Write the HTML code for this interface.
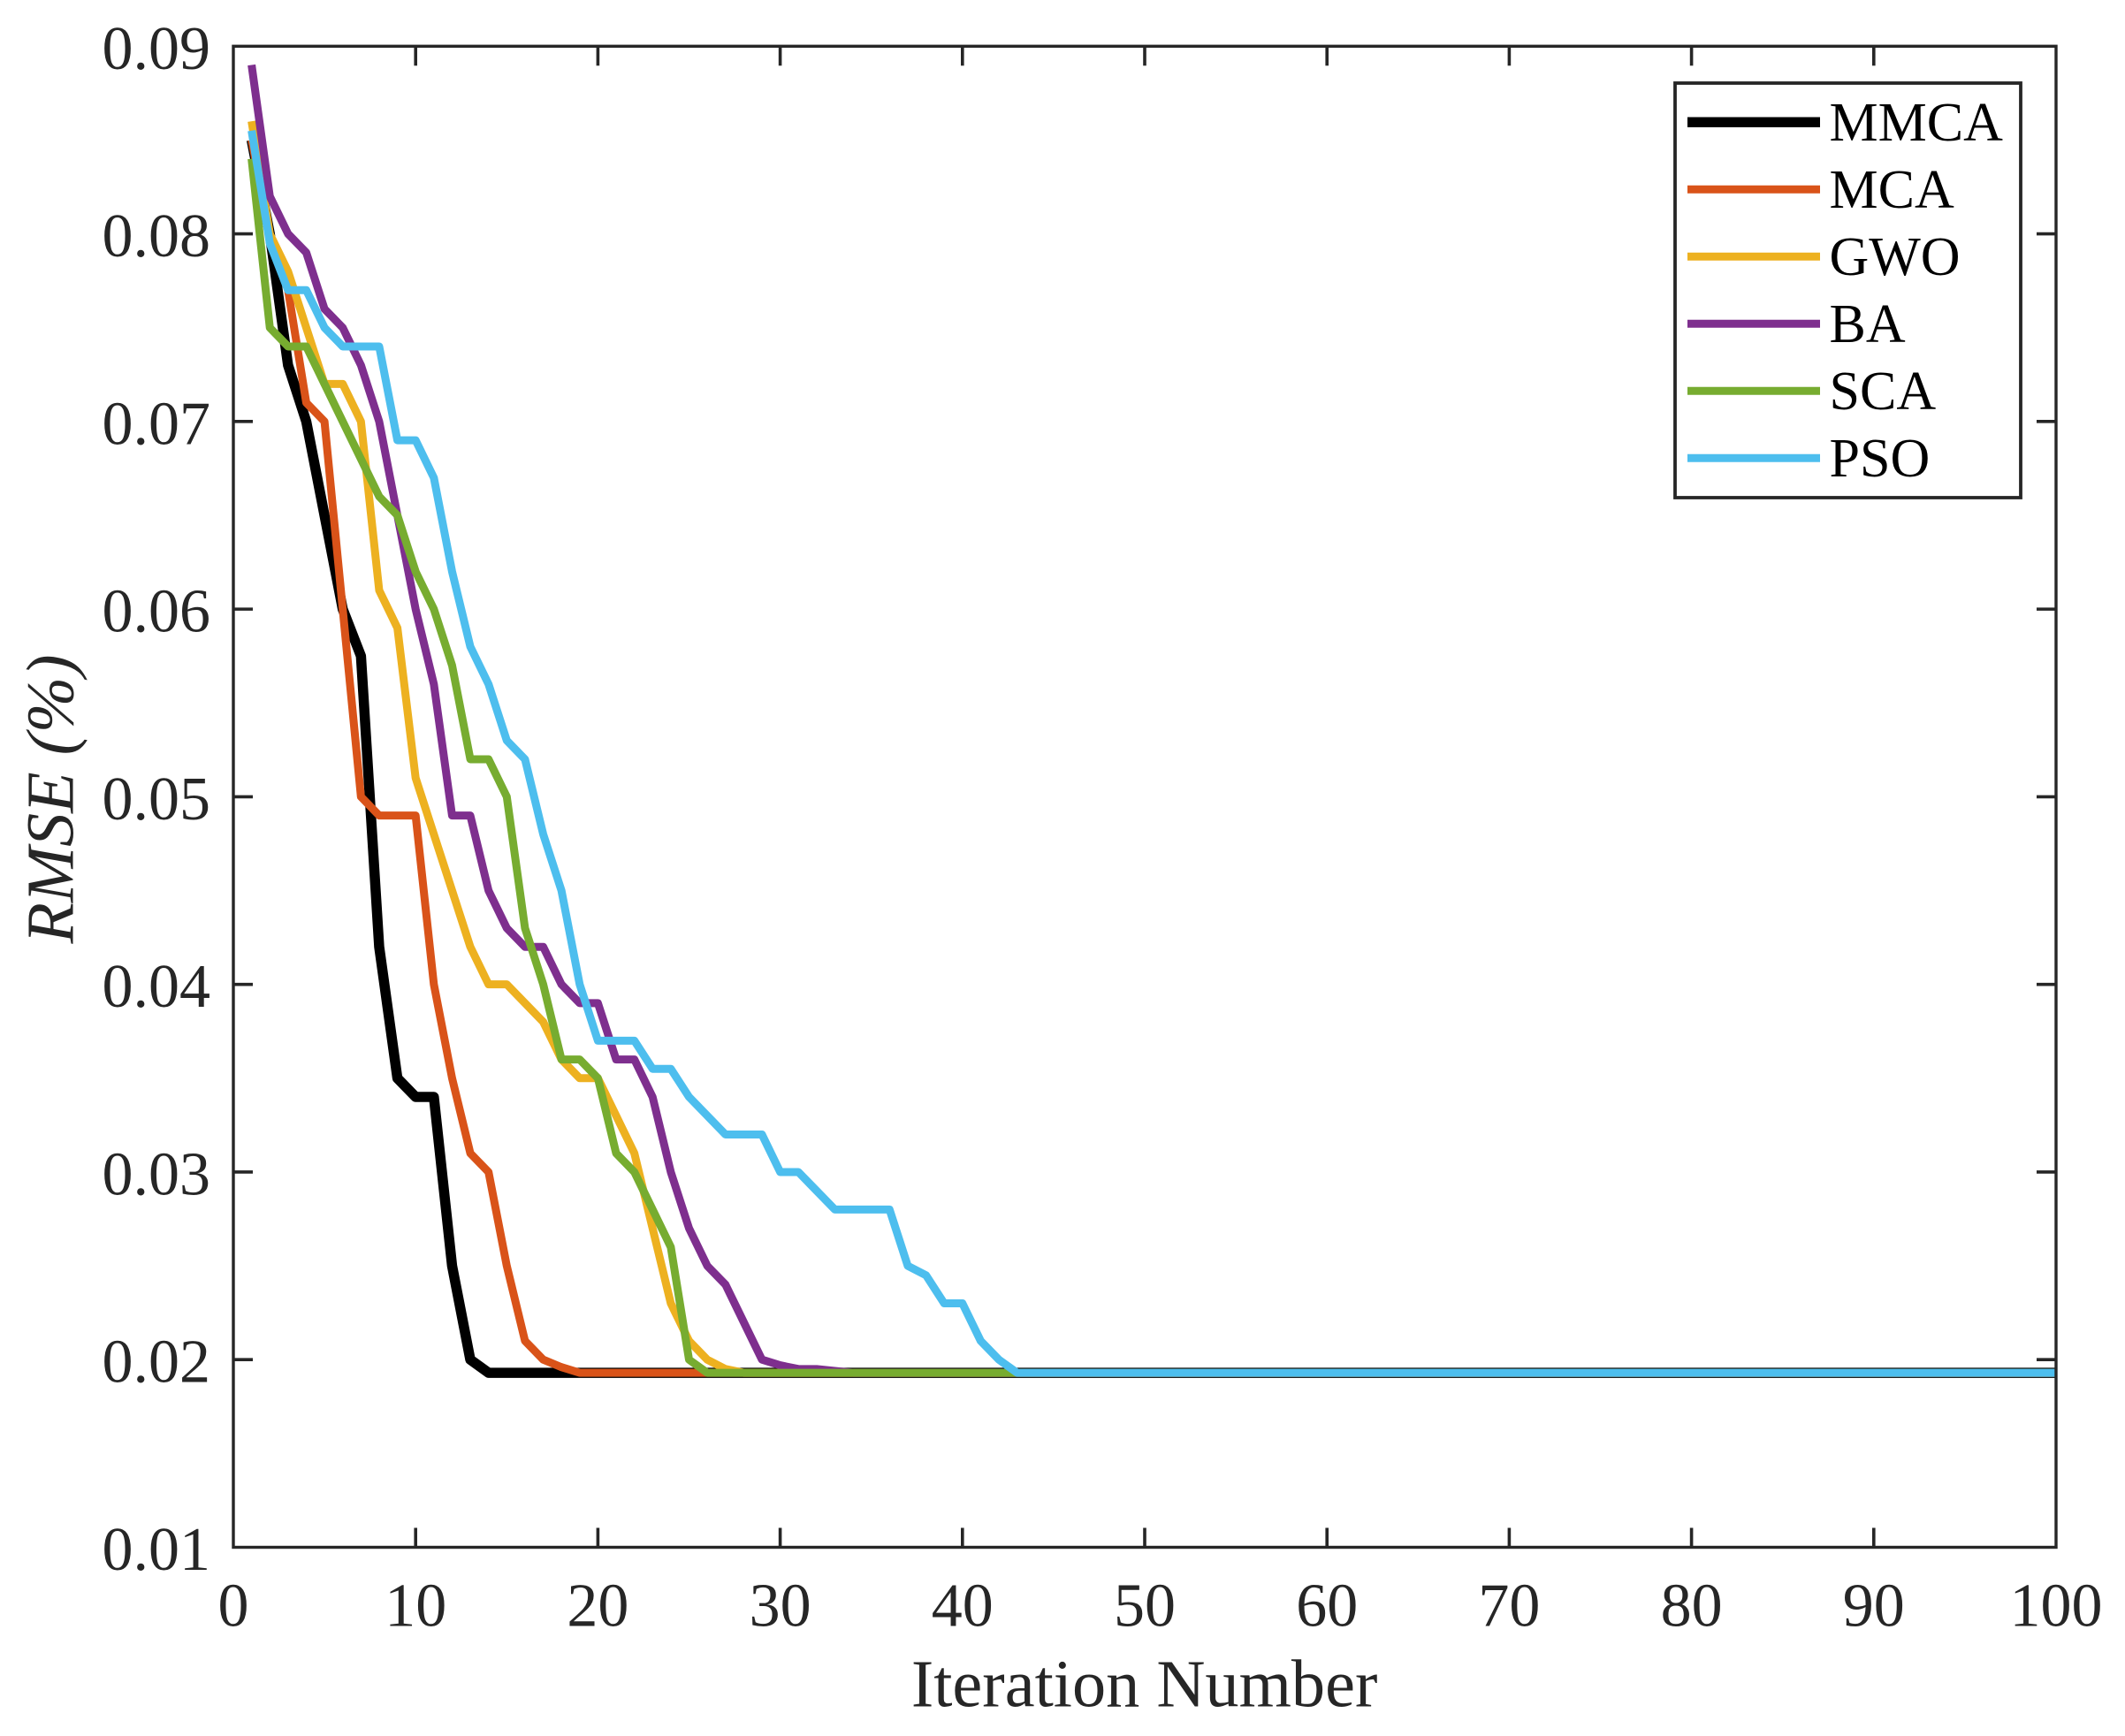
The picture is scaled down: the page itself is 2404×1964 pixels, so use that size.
<!DOCTYPE html>
<html lang="en">
<head>
<meta charset="utf-8">
<title>RMSE convergence chart</title>
<style>
html,body{margin:0;padding:0;background:#fff;}
svg{display:block;}
text{font-family:"Liberation Serif","Times New Roman",serif;}
</style>
</head>
<body>
<svg id="chart" xmlns="http://www.w3.org/2000/svg" width="2404" height="1964" viewBox="0 0 2404 1964">
  <rect x="0" y="0" width="2404" height="1964" fill="#ffffff"/>
  <g id="series"></g>
  <g id="axes"></g>
  <text x="1294.6" y="1930.7" font-size="76.3" text-anchor="middle" fill="#262626">Iteration Number</text>
  <text transform="translate(82.5,904) rotate(-90)" font-size="76" font-style="italic" text-anchor="middle" fill="#262626">RMSE (%)</text>
  <g id="legend"></g>
</svg>
<script>
const xTicks = [0, 10, 20, 30, 40, 50, 60, 70, 80, 90, 100];
const yTicks = [0.01, 0.02, 0.03, 0.04, 0.05, 0.06, 0.07, 0.08, 0.09];
const yTickLabels = ["0.01", "0.02", "0.03", "0.04", "0.05", "0.06", "0.07", "0.08", "0.09"];

const seriesNames = ["MMCA", "MCA", "GWO", "BA", "SCA", "PSO"];

const mmca = [
0.085,0.080,0.073,0.070,0.065,0.060,0.0575,0.042,0.035,0.034,
0.034,0.025,0.020,0.0193,0.0193,0.0193,0.0193,0.0193,0.0193,0.0193,
0.0193,0.0193,0.0193,0.0193,0.0193,0.0193,0.0193,0.0193,0.0193,0.0193,
0.0193,0.0193,0.0193,0.0193,0.0193,0.0193,0.0193,0.0193,0.0193,0.0193,
0.0193,0.0193,0.0193,0.0193,0.0193,0.0193,0.0193,0.0193,0.0193,0.0193,
0.0193,0.0193,0.0193,0.0193,0.0193,0.0193,0.0193,0.0193,0.0193,0.0193,
0.0193,0.0193,0.0193,0.0193,0.0193,0.0193,0.0193,0.0193,0.0193,0.0193,
0.0193,0.0193,0.0193,0.0193,0.0193,0.0193,0.0193,0.0193,0.0193,0.0193,
0.0193,0.0193,0.0193,0.0193,0.0193,0.0193,0.0193,0.0193,0.0193,0.0193,
0.0193,0.0193,0.0193,0.0193,0.0193,0.0193,0.0193,0.0193,0.0193,0.0193];

const mca = [
0.085,0.080,0.077,0.071,0.070,0.060,0.050,0.049,0.049,0.049,
0.040,0.035,0.031,0.030,0.025,0.021,0.020,0.0196,0.0193,0.0193,
0.0193,0.0193,0.0193,0.0193,0.0193,0.0193,0.0193,0.0193,0.0193,0.0193,
0.0193,0.0193,0.0193,0.0193,0.0193,0.0193,0.0193,0.0193,0.0193,0.0193,
0.0193,0.0193,0.0193,0.0193,0.0193,0.0193,0.0193,0.0193,0.0193,0.0193,
0.0193,0.0193,0.0193,0.0193,0.0193,0.0193,0.0193,0.0193,0.0193,0.0193,
0.0193,0.0193,0.0193,0.0193,0.0193,0.0193,0.0193,0.0193,0.0193,0.0193,
0.0193,0.0193,0.0193,0.0193,0.0193,0.0193,0.0193,0.0193,0.0193,0.0193,
0.0193,0.0193,0.0193,0.0193,0.0193,0.0193,0.0193,0.0193,0.0193,0.0193,
0.0193,0.0193,0.0193,0.0193,0.0193,0.0193,0.0193,0.0193,0.0193,0.0193];

const gwo = [
0.086,0.080,0.078,0.075,0.072,0.072,0.070,0.061,0.059,0.051,
0.048,0.045,0.042,0.040,0.040,0.039,0.038,0.036,0.035,0.035,
0.033,0.031,0.027,0.023,0.021,0.020,0.0195,0.0193,0.0193,0.0193,
0.0193,0.0193,0.0193,0.0193,0.0193,0.0193,0.0193,0.0193,0.0193,0.0193,
0.0193,0.0193,0.0193,0.0193,0.0193,0.0193,0.0193,0.0193,0.0193,0.0193,
0.0193,0.0193,0.0193,0.0193,0.0193,0.0193,0.0193,0.0193,0.0193,0.0193,
0.0193,0.0193,0.0193,0.0193,0.0193,0.0193,0.0193,0.0193,0.0193,0.0193,
0.0193,0.0193,0.0193,0.0193,0.0193,0.0193,0.0193,0.0193,0.0193,0.0193,
0.0193,0.0193,0.0193,0.0193,0.0193,0.0193,0.0193,0.0193,0.0193,0.0193,
0.0193,0.0193,0.0193,0.0193,0.0193,0.0193,0.0193,0.0193,0.0193,0.0193];

const ba = [
0.089,0.082,0.080,0.079,0.076,0.075,0.073,0.070,0.065,0.060,
0.056,0.049,0.049,0.045,0.043,0.042,0.042,0.040,0.039,0.039,
0.036,0.036,0.034,0.030,0.027,0.025,0.024,0.022,0.020,0.0197,
0.0195,0.0195,0.0194,0.0193,0.0193,0.0193,0.0193,0.0193,0.0193,0.0193,
0.0193,0.0193,0.0193,0.0193,0.0193,0.0193,0.0193,0.0193,0.0193,0.0193,
0.0193,0.0193,0.0193,0.0193,0.0193,0.0193,0.0193,0.0193,0.0193,0.0193,
0.0193,0.0193,0.0193,0.0193,0.0193,0.0193,0.0193,0.0193,0.0193,0.0193,
0.0193,0.0193,0.0193,0.0193,0.0193,0.0193,0.0193,0.0193,0.0193,0.0193,
0.0193,0.0193,0.0193,0.0193,0.0193,0.0193,0.0193,0.0193,0.0193,0.0193,
0.0193,0.0193,0.0193,0.0193,0.0193,0.0193,0.0193,0.0193,0.0193,0.0193];

const sca = [
0.084,0.075,0.074,0.074,0.072,0.070,0.068,0.066,0.065,0.062,
0.060,0.057,0.052,0.052,0.050,0.043,0.040,0.036,0.036,0.035,
0.031,0.030,0.028,0.026,0.020,0.0193,0.0193,0.0193,0.0193,0.0193,
0.0193,0.0193,0.0193,0.0193,0.0193,0.0193,0.0193,0.0193,0.0193,0.0193,
0.0193,0.0193,0.0193,0.0193,0.0193,0.0193,0.0193,0.0193,0.0193,0.0193,
0.0193,0.0193,0.0193,0.0193,0.0193,0.0193,0.0193,0.0193,0.0193,0.0193,
0.0193,0.0193,0.0193,0.0193,0.0193,0.0193,0.0193,0.0193,0.0193,0.0193,
0.0193,0.0193,0.0193,0.0193,0.0193,0.0193,0.0193,0.0193,0.0193,0.0193,
0.0193,0.0193,0.0193,0.0193,0.0193,0.0193,0.0193,0.0193,0.0193,0.0193,
0.0193,0.0193,0.0193,0.0193,0.0193,0.0193,0.0193,0.0193,0.0193,0.0193];

const pso = [
0.0855,0.0795,0.077,0.077,0.075,0.074,0.074,0.074,0.069,0.069,
0.067,0.062,0.058,0.056,0.053,0.052,0.048,0.045,0.040,0.037,
0.037,0.037,0.0355,0.0355,0.034,0.033,0.032,0.032,0.032,0.030,
0.030,0.029,0.028,0.028,0.028,0.028,0.025,0.0245,0.023,0.023,
0.021,0.020,0.0193,0.0193,0.0193,0.0193,0.0193,0.0193,0.0193,0.0193,
0.0193,0.0193,0.0193,0.0193,0.0193,0.0193,0.0193,0.0193,0.0193,0.0193,
0.0193,0.0193,0.0193,0.0193,0.0193,0.0193,0.0193,0.0193,0.0193,0.0193,
0.0193,0.0193,0.0193,0.0193,0.0193,0.0193,0.0193,0.0193,0.0193,0.0193,
0.0193,0.0193,0.0193,0.0193,0.0193,0.0193,0.0193,0.0193,0.0193,0.0193,
0.0193,0.0193,0.0193,0.0193,0.0193,0.0193,0.0193,0.0193,0.0193,0.0193];

const seriesValues = [mmca, mca, gwo, ba, sca, pso];
const seriesColors = ["#000000", "#d95319", "#edb120", "#7e2f8e", "#77ac30", "#4dbeee"];
const seriesWidths = [11.5, 9, 9, 9, 9, 9];

const NS = "http://www.w3.org/2000/svg";
const plotLeft = 264, plotRight = 2326, plotTop = 52.3, plotBottom = 1750.5;
const xMin = 0, xMax = 100, yMin = 0.01, yMax = 0.09;
const axisColor = "#262626";

function xScale(v) { return plotLeft + (v - xMin) / (xMax - xMin) * (plotRight - plotLeft); }
function yScale(v) { return plotBottom - (v - yMin) / (yMax - yMin) * (plotBottom - plotTop); }
function make(tag, parent, attrs) {
  const el = document.createElementNS(NS, tag);
  for (const k in attrs) el.setAttribute(k, attrs[k]);
  parent.appendChild(el);
  return el;
}

const seriesGroup = document.getElementById("series");
const axesGroup = document.getElementById("axes");
const legendGroup = document.getElementById("legend");

seriesValues.forEach(function (vals, i) {
  const pts = vals.map(function (v, j) { return xScale(j + 1).toFixed(2) + "," + yScale(v).toFixed(2); }).join(" ");
  const line = make("polyline", seriesGroup, {
    points: pts, fill: "none", stroke: seriesColors[i], "stroke-width": seriesWidths[i],
    "stroke-linejoin": "round", "stroke-linecap": "butt"
  });
  
  
});

const frame = make("rect", axesGroup, {
  x: plotLeft, y: plotTop, width: plotRight - plotLeft, height: plotBottom - plotTop,
  fill: "none", stroke: axisColor, "stroke-width": 3.4
});



const tickLen = 22;
xTicks.forEach(function (t) {
  const x = xScale(t);
  if (t !== xMin && t !== xMax) {
    const b = make("line", axesGroup, { x1: x, x2: x, y1: plotBottom, y2: plotBottom - tickLen, stroke: axisColor, "stroke-width": 3.6 });
    
    
    const u = make("line", axesGroup, { x1: x, x2: x, y1: plotTop, y2: plotTop + tickLen, stroke: axisColor, "stroke-width": 3.6 });
    
    
  }
  const lab = make("text", axesGroup, { x: x, y: 1839.7, "font-size": 70, "text-anchor": "middle", fill: axisColor });
  lab.textContent = String(t);
  
  
});

yTicks.forEach(function (t, i) {
  const y = yScale(t);
  if (t !== yMin && t !== yMax) {
    const l = make("line", axesGroup, { x1: plotLeft, x2: plotLeft + tickLen, y1: y, y2: y, stroke: axisColor, "stroke-width": 3.6 });
    
    
    const r = make("line", axesGroup, { x1: plotRight, x2: plotRight - tickLen, y1: y, y2: y, stroke: axisColor, "stroke-width": 3.6 });
    
    
  }
  const lab = make("text", axesGroup, { x: 238, y: y + 25.5, "font-size": 70, "text-anchor": "end", fill: axisColor });
  lab.textContent = yTickLabels[i];
  
  
});

const legendBox = make("rect", legendGroup, { x: 1895, y: 94, width: 391, height: 469, fill: "#ffffff", stroke: axisColor, "stroke-width": 3.8 });



seriesNames.forEach(function (name, i) {
  const rowY = 138.2 + i * 76;
  const swatch = make("line", legendGroup, { x1: 1909, x2: 2059, y1: rowY, y2: rowY, stroke: seriesColors[i], "stroke-width": seriesWidths[i] });
  
  
  const label = make("text", legendGroup, { x: 2069.5, y: rowY + 21, "font-size": 62, fill: "#000000" });
  label.textContent = name;
  
  
});
</script>
</body>
</html>
